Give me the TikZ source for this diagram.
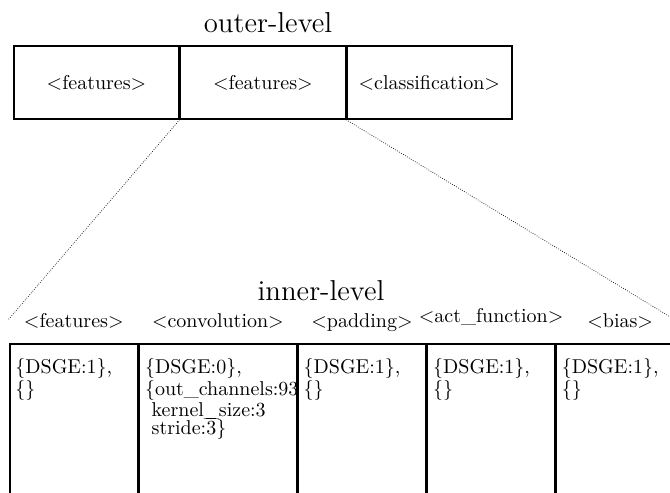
\documentclass[tikz,border=0pt]{standalone}
\usepackage{tikz}
\usetikzlibrary{positioning}

\begin{document}
\begin{tikzpicture}[
    x=0.5pt, y=-0.5pt,
    outerbox/.style={draw=black, line width=0.7pt, minimum width=82.5pt, minimum height=36.5pt, inner sep=0pt},
    cellbox/.style={draw=black, line width=0.8pt, minimum height=100pt, inner sep=0pt},
    celltext/.style={anchor=north west, align=left, inner xsep=3pt, inner ysep=7.5pt, font=\fontsize{10}{9}\selectfont},
    gene/.style={inner sep=0pt, anchor=base},
    title/.style={font=\Large, anchor=base},
    zoomline/.style={line width=0.35pt, dash pattern=on 0.35pt off 0.8pt}
]
\useasboundingbox (0,0) rectangle (670,493);

% Outer level
\node[title] (outtitle) at (268,32) {outer-level};
\node[outerbox] (outA) at (96.5,82.5) {$<$features$>$};
\node[outerbox, right=0pt of outA] (outB) {$<$features$>$};
\node[outerbox, right=0pt of outB] (outC) {$<$classification$>$};

% Inner level
\node[title] (intitle) at (321,300) {inner-level};
\node[cellbox, anchor=north west, minimum width=64pt] (cellA) at (9,343) {};
\node[cellbox, right=0pt of cellA, minimum width=78.5pt] (cellB) {};
\node[cellbox, right=0pt of cellB, minimum width=64pt] (cellC) {};
\node[cellbox, right=0pt of cellC, minimum width=63.5pt] (cellD) {};
\node[cellbox, right=0pt of cellD, minimum width=64pt] (cellE) {};

\node[above=8pt of cellA, gene] (geneA) {$<$features$>$};
\node[above=8pt of cellB, gene] (geneB) {$<$convolution$>$};
\node[above=8pt of cellC, gene] (geneC) {$<$padding$>$};
\node[above=10.5pt of cellD, gene] (geneD) {$<$act\_function$>$};
\node[above=8pt of cellE, gene] (geneE) {$<$bias$>$};

\node[celltext] (txtA) at (cellA.north west) {\{DSGE:1\},\\\{\}};
\node[celltext] (txtB) at (cellB.north west) {\{DSGE:0\},\\\{out\_channels:93\\\ kernel\_size:3\\\ stride:\smash{$\overline{3}$}\}};
\node[celltext] (txtC) at (cellC.north west) {\{DSGE:1\},\\\{\}};
\node[celltext] (txtD) at (cellD.north west) {\{DSGE:1\},\\\{\}};
\node[celltext] (txtE) at (cellE.north west) {\{DSGE:1\},\\\{\}};

% Zoom lines
\coordinate (zoomL) at (8,320);
\coordinate (zoomR) at (672,318);
\draw[zoomline] (outB.south west) -- (zoomL);
\draw[zoomline] (outB.south east) -- (zoomR);

\end{tikzpicture}
\end{document}
